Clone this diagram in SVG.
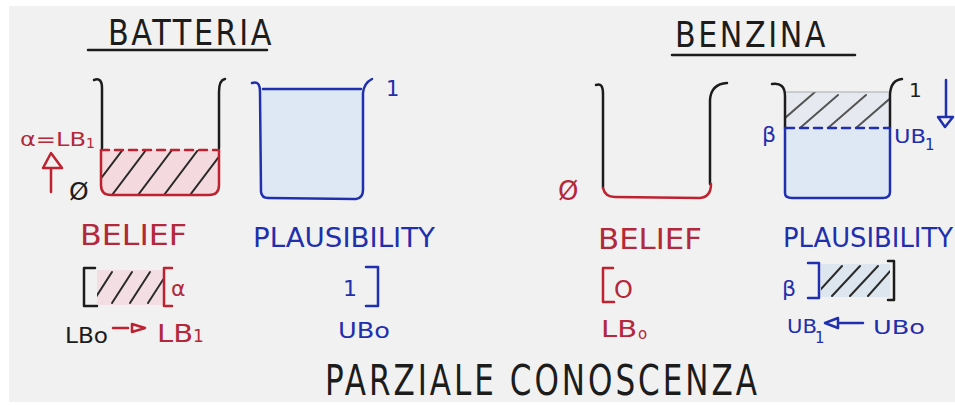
<svg xmlns="http://www.w3.org/2000/svg" width="955" height="405" viewBox="0 0 955 405">
<style>
text{font-family:"DejaVu Sans","Liberation Sans",sans-serif;}
.k{fill:#1c1c1c}
.r{fill:#b3283a}
.b{fill:#1f2fae}
.wk{fill:none;stroke:#1c1c1c;stroke-width:2.5;stroke-linecap:round;stroke-linejoin:round}
.wr{fill:none;stroke:#be2230;stroke-width:2.5;stroke-linecap:round;stroke-linejoin:round}
.wb{fill:none;stroke:#1f2fae;stroke-width:2.5;stroke-linecap:round;stroke-linejoin:round}
.h{stroke:#2a2a2a;stroke-width:2;stroke-linecap:round}
.hg{stroke:#555;stroke-width:2;stroke-linecap:round}
</style>
<defs>
<clipPath id="cb1"><path d="M101,150 L101,185 Q101,195 111,195 L209,195 Q219,195 219,185 L219,150 Z"/></clipPath>
<clipPath id="cp2"><rect x="786" y="92" width="103" height="36"/></clipPath>
<clipPath id="cr1"><rect x="97" y="270" width="66" height="35"/></clipPath>
<clipPath id="cr2"><rect x="821" y="264" width="69" height="33"/></clipPath>
</defs>
<rect x="0" y="0" width="955" height="405" fill="#ffffff"/>
<rect x="9" y="6" width="946" height="396" fill="#f1f1f1"/>

<g id="title-batteria">
<text x="108" y="45" font-size="36" class="k" textLength="166" lengthAdjust="spacingAndGlyphs" letter-spacing="3">BATTERIA</text>
<path d="M88,50 L267,50" class="wk" stroke-width="2"/>
</g>
<g id="title-benzina">
<text x="675" y="47" font-size="35" class="k" textLength="153" lengthAdjust="spacingAndGlyphs" letter-spacing="3">BENZINA</text>
<path d="M672,55 L855,55" class="wk" stroke-width="2"/>
</g>

<g id="batteria-belief">
<path d="M101,150 L101,185 Q101,195 111,195 L209,195 Q219,195 219,185 L219,150 Z" fill="#f4d9de"/>
<g clip-path="url(#cb1)">
<line x1="96" y1="185" x2="124" y2="148" class="h"/>
<line x1="112" y1="195" x2="146" y2="150" class="h"/>
<line x1="138" y1="195" x2="172" y2="150" class="h"/>
<line x1="164" y1="195" x2="198" y2="150" class="h"/>
<line x1="190" y1="195" x2="224" y2="150" class="h"/>
</g>
<path d="M101,150 L219,150" class="wr" stroke-width="2" stroke-dasharray="8 6"/>
<path d="M101,150 L101,185 Q101,195 111,195 L209,195 Q219,195 219,185 L219,150" class="wr"/>
<path d="M94,80 Q102,77 102,88 L102,148" class="wk"/>
<path d="M225,79 Q219,80 219,92 L219,148" class="wk"/>
<text x="20" y="146" font-size="20" class="r" textLength="66" lengthAdjust="spacingAndGlyphs">α=LB</text>
<text x="86" y="148" font-size="14" class="r">1</text>
<path d="M51,192 L51,168 M43,168 L62,168 L51,153 Z" class="wr" stroke-width="2"/>
<text x="69" y="200" font-size="25" class="k">Ø</text>
</g>

<g id="batteria-plausibility">
<rect x="262" y="90" width="100" height="107" fill="#dde8f4"/>
<path d="M263,89 L361,89" class="wb" stroke-width="1.8"/>
<path d="M252,83 Q260,80 260,92 L261,192 Q262,198 268,198 L356,199 Q363,198 363,190 L363,93 Q364,83 372,79" class="wb"/>
<text x="386" y="96" font-size="21" class="b">1</text>
</g>

<g id="benzina-belief">
<path d="M596,85 Q603,82 603,94 L603,188" class="wk"/>
<path d="M727,83 Q711,84 710,100 L710,184" class="wk"/>
<path d="M603,188 Q605,197 615,197 L700,198 Q711,197 711,184" class="wr"/>
<text x="558" y="200" font-size="26" class="r">Ø</text>
</g>

<g id="benzina-plausibility">
<rect x="786" y="92" width="103" height="36" fill="#e6e9ef"/>
<g clip-path="url(#cp2)">
<line x1="785" y1="118" x2="815" y2="92" class="hg"/>
<line x1="800" y1="128" x2="838" y2="95" class="hg"/>
<line x1="828" y1="128" x2="866" y2="95" class="hg"/>
<line x1="856" y1="128" x2="894" y2="95" class="hg"/>
</g>
<path d="M786,92 L889,92" stroke="#aaa" stroke-width="1"/>
<rect x="786" y="129" width="103" height="68" fill="#dde8f4"/>
<path d="M786,128 L889,128" class="wb" stroke-width="2" stroke-dasharray="8 6"/>
<path d="M772,84 Q785,82 785,96 L785,128" class="wk"/>
<path d="M890,128 L890,94 Q891,80 902,79" class="wk"/>
<path d="M785,128 L785,193 Q785,198 792,198 L883,198 Q890,198 890,192 L890,128" class="wb"/>
<text x="909" y="97" font-size="20" class="k">1</text>
<path d="M946,80 L946,116 M938,117 L953,117 L945,127 Z" class="wb" stroke-width="2"/>
<text x="762" y="142" font-size="22" class="b">β</text>
<text x="894" y="143" font-size="19" class="b" textLength="32" lengthAdjust="spacingAndGlyphs">UB</text>
<text x="925" y="150" font-size="15" class="b">1</text>
</g>

<g id="labels-batteria">
<text x="80" y="245" font-size="28" class="r" textLength="107" lengthAdjust="spacingAndGlyphs">BELIEF</text>
<text x="253" y="247" font-size="26" class="b" textLength="182" lengthAdjust="spacingAndGlyphs">PLAUSIBILITY</text>
<rect x="97" y="270" width="66" height="35" fill="#f3dfe3"/>
<g clip-path="url(#cr1)">
<line x1="94" y1="300" x2="112" y2="272" class="h"/>
<line x1="112" y1="303" x2="132" y2="272" class="h"/>
<line x1="130" y1="303" x2="150" y2="272" class="h"/>
<line x1="148" y1="303" x2="168" y2="272" class="h"/>
</g>
<path d="M95,268 L84,268 L84,306 L97,306" class="wk"/>
<path d="M172,268 L164,268 L164,306 L172,306" class="wr"/>
<text x="171" y="296" font-size="22" class="r">α</text>
<text x="343" y="296" font-size="22" class="b">1</text>
<path d="M366,267 L378,267 L378,306 L366,306" class="wb"/>
<text x="65" y="343" font-size="22" class="k" textLength="43" lengthAdjust="spacingAndGlyphs">LBo</text>
<path d="M113,328 L128,328 M132,324 L145,328 L132,332 Z" class="wr" stroke-width="2"/>
<text x="157" y="342" font-size="25" class="r" textLength="36" lengthAdjust="spacingAndGlyphs">LB</text>
<text x="193" y="342" font-size="17" class="r">1</text>
<text x="338" y="338" font-size="21" class="b" textLength="52" lengthAdjust="spacingAndGlyphs">UBo</text>
</g>

<g id="labels-benzina">
<text x="598" y="249" font-size="29" class="r" textLength="104" lengthAdjust="spacingAndGlyphs">BELIEF</text>
<text x="783" y="247" font-size="26" class="b" textLength="170" lengthAdjust="spacingAndGlyphs">PLAUSIBILITY</text>
<path d="M613,268 L603,268 L603,302 L614,302" class="wr"/>
<text x="614" y="298" font-size="24" class="r">O</text>
<text x="782" y="296" font-size="22" class="b">β</text>
<rect x="821" y="264" width="69" height="33" fill="#dde6ef"/>
<g clip-path="url(#cr2)">
<line x1="820" y1="290" x2="842" y2="266" class="h"/>
<line x1="832" y1="296" x2="860" y2="266" class="h"/>
<line x1="850" y1="296" x2="878" y2="266" class="h"/>
<line x1="868" y1="296" x2="893" y2="268" class="h"/>
</g>
<path d="M808,263 L819,263 L819,298 L808,298" class="wb"/>
<path d="M888,261 L894,261 L894,300 L888,300" class="wk" stroke-width="2"/>
<text x="601" y="337" font-size="23" class="r" textLength="36" lengthAdjust="spacingAndGlyphs">LB</text>
<text x="638" y="339" font-size="15" class="r">o</text>
<text x="787" y="333" font-size="19" class="b" textLength="30" lengthAdjust="spacingAndGlyphs">UB</text>
<text x="815" y="343" font-size="15" class="b">1</text>
<path d="M838,318 L825,323 L838,328 Z M838,323 L863,323" class="wb" stroke-width="2"/>
<text x="873" y="334" font-size="20" class="b" textLength="52" lengthAdjust="spacingAndGlyphs">UBo</text>
</g>

<g id="footer">
<text x="325" y="395" font-size="42" class="k" textLength="435" lengthAdjust="spacingAndGlyphs" letter-spacing="4">PARZIALE CONOSCENZA</text>
</g>
</svg>
